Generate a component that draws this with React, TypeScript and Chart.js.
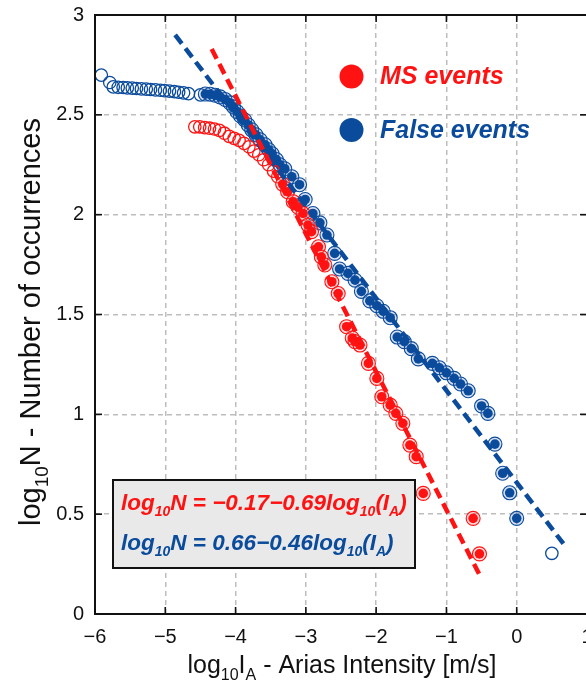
import React, { useEffect, useRef } from 'react';
import { Chart, registerables } from 'chart.js';

Chart.register(...registerables);

const FONT = "'Liberation Sans', Arial, Helvetica, sans-serif";
const RED = '#ff1212';
const BLUE = '#0a4b9c';

// Axis ticks
const xTickValues = [-6, -5, -4, -3, -2, -1, 0, 1];
const yTickValues = [0, 0.5, 1, 1.5, 2, 2.5, 3];

// False events (blue) – open circles (not used in fit)
const blueOpenX = [-5.91, -5.79, -5.74, -5.67, -5.60, -5.54, -5.47, -5.41, -5.34, -5.27, -5.21, -5.14, -5.07, -5.01, -4.94, -4.87, -4.81, -4.74, -4.67, -4.50, 0.50];
const blueOpenY = [2.699, 2.662, 2.640, 2.638, 2.637, 2.635, 2.634, 2.632, 2.630, 2.629, 2.627, 2.625, 2.623, 2.621, 2.619, 2.616, 2.613, 2.610, 2.606, 2.600, 0.304];

// False events (blue) – filled points (used in fit)
const blueFitX = [-4.43, -4.36, -4.29, -4.22, -4.15, -4.08, -4.03, -3.98, -3.93, -3.87, -3.82, -3.77, -3.71, -3.65, -3.58, -3.53, -3.48, -3.42, -3.37, -3.30, -3.20, -3.09, -3.01, -2.90, -2.80, -2.70, -2.59, -2.52, -2.40, -2.30, -2.21, -2.09, -1.99, -1.90, -1.80, -1.70, -1.60, -1.50, -1.40, -1.20, -1.10, -1.00, -0.89, -0.80, -0.69, -0.50, -0.41, -0.31, -0.20, -0.10, 0.00];
const blueFitY = [2.604, 2.603, 2.598, 2.590, 2.577, 2.560, 2.540, 2.516, 2.494, 2.474, 2.449, 2.425, 2.400, 2.375, 2.350, 2.325, 2.305, 2.276, 2.250, 2.230, 2.190, 2.150, 2.076, 2.006, 1.959, 1.898, 1.806, 1.728, 1.706, 1.672, 1.616, 1.568, 1.544, 1.516, 1.484, 1.387, 1.364, 1.329, 1.278, 1.255, 1.233, 1.208, 1.180, 1.152, 1.118, 1.042, 1.005, 0.851, 0.705, 0.607, 0.479];

// MS events (red) – open circles
const redOpenX = [-4.58, -4.51, -4.44, -4.37, -4.30, -4.23, -4.16, -4.09, -4.02, -3.95, -3.88, -3.81, -3.74, -3.67, -3.60, -3.53, -3.46, -3.40];
const redOpenY = [2.440, 2.440, 2.436, 2.433, 2.429, 2.422, 2.408, 2.392, 2.382, 2.372, 2.357, 2.340, 2.318, 2.300, 2.275, 2.250, 2.218, 2.190];

// MS events (red) – filled points
const redFitX = [-3.33, -3.26, -3.18, -3.11, -3.04, -2.97, -2.92, -2.82, -2.78, -2.73, -2.63, -2.54, -2.42, -2.34, -2.30, -2.23, -2.11, -1.99, -1.92, -1.80, -1.72, -1.62, -1.52, -1.43, -1.33, -0.62, -0.53];
const redFitY = [2.153, 2.115, 2.065, 2.038, 2.006, 1.948, 1.915, 1.839, 1.788, 1.748, 1.664, 1.605, 1.439, 1.382, 1.364, 1.347, 1.255, 1.180, 1.088, 1.046, 1.005, 0.955, 0.846, 0.788, 0.604, 0.479, 0.301];

// Fit lines (end points)
const redLineX = [-4.34, -0.52];
const redLineY = [2.83, 0.19];
const blueLineX = [-4.86, 0.69];
const blueLineY = [2.90, 0.34];

const legendLabels = ['MS events', 'False events'];

const pts = (xs: number[], ys: number[]) => xs.map((x, i) => ({ x, y: ys[i] }));

type Seg = { t: string; sub?: boolean };

function drawRich(ctx: CanvasRenderingContext2D, segs: Seg[], x: number, y: number, size: number, style: string, align: 'left' | 'center') {
  const subSize = Math.round(size * 0.64);
  const fontFor = (s: Seg) => `${style} ${s.sub ? subSize : size}px ${FONT}`;
  let total = 0;
  for (const s of segs) {
    ctx.font = fontFor(s);
    total += ctx.measureText(s.t).width;
  }
  let cx = align === 'center' ? x - total / 2 : x;
  ctx.textAlign = 'left';
  ctx.textBaseline = 'alphabetic';
  for (const s of segs) {
    ctx.font = fontFor(s);
    ctx.fillText(s.t, cx, s.sub ? y + size * 0.28 : y);
    cx += ctx.measureText(s.t).width;
  }
}

const decorPlugin = {
  id: 'decor',
  afterDraw(chart: any) {
    const { ctx, chartArea: a, scales } = chart;
    ctx.save();
    // frame
    ctx.strokeStyle = '#111';
    ctx.lineWidth = 2;
    ctx.setLineDash([]);
    ctx.strokeRect(a.left, a.top, a.right - a.left, a.bottom - a.top);
    // inward ticks
    ctx.lineWidth = 1.6;
    const seg = (x1: number, y1: number, x2: number, y2: number) => {
      ctx.beginPath();
      ctx.moveTo(x1, y1);
      ctx.lineTo(x2, y2);
      ctx.stroke();
    };
    for (const v of xTickValues) {
      const px = scales.x.getPixelForValue(v);
      seg(px, a.bottom, px, a.bottom - 7);
      seg(px, a.top, px, a.top + 7);
    }
    for (const v of yTickValues) {
      const py = scales.y.getPixelForValue(v);
      seg(a.left, py, a.left + 7, py);
      seg(a.right, py, a.right - 7, py);
    }

    // legend
    const legendColors = [RED, BLUE];
    const legendY = [76.5, 130];
    legendLabels.forEach((lab, i) => {
      ctx.fillStyle = legendColors[i];
      ctx.beginPath();
      ctx.arc(351.5, legendY[i], 12, 0, Math.PI * 2);
      ctx.fill();
      ctx.font = `italic bold 25px ${FONT}`;
      ctx.textAlign = 'left';
      ctx.textBaseline = 'middle';
      ctx.fillText(lab, 380, legendY[i] + 1);
    });

    // equation box
    ctx.fillStyle = '#e9e9e9';
    ctx.fillRect(113, 480, 302, 88);
    ctx.strokeStyle = '#111';
    ctx.lineWidth = 2;
    ctx.strokeRect(113, 480, 302, 88);
    ctx.fillStyle = RED;
    drawRich(ctx, [
      { t: 'log' }, { t: '10', sub: true }, { t: 'N = \u22120.17\u22120.69log' }, { t: '10', sub: true },
      { t: '(I' }, { t: 'A', sub: true }, { t: ')' },
    ], 121, 510, 22.5, 'italic bold', 'left');
    ctx.fillStyle = BLUE;
    drawRich(ctx, [
      { t: 'log' }, { t: '10', sub: true }, { t: 'N = 0.66\u22120.46log' }, { t: '10', sub: true },
      { t: '(I' }, { t: 'A', sub: true }, { t: ')' },
    ], 121, 550, 22.5, 'italic bold', 'left');

    // axis titles
    ctx.fillStyle = '#111';
    drawRich(ctx, [
      { t: 'log' }, { t: '10', sub: true }, { t: 'I' }, { t: 'A', sub: true }, { t: ' - Arias Intensity [m/s]' },
    ], 342, 673, 25, 'normal', 'center');
    ctx.save();
    ctx.translate(40, 322);
    ctx.rotate(-Math.PI / 2);
    drawRich(ctx, [
      { t: 'log' }, { t: '10', sub: true }, { t: 'N - Number of occurrences' },
    ], 0, 0, 29, 'normal', 'center');
    ctx.restore();

    ctx.restore();
  },
};

export default function App() {
  const ref = useRef<HTMLCanvasElement | null>(null);

  useEffect(() => {
    if (!ref.current) return;
    const chart = new Chart(ref.current, {
      type: 'scatter',
      data: {
        datasets: [
          {
            label: 'MS fit',
            data: pts(redLineX, redLineY),
            showLine: true,
            borderColor: RED,
            borderWidth: 4.5,
            borderDash: [11, 6],
            pointRadius: 0,
            fill: false,
          },
          {
            label: 'False fit',
            data: pts(blueLineX, blueLineY),
            showLine: true,
            borderColor: BLUE,
            borderWidth: 4.5,
            borderDash: [11, 6],
            pointRadius: 0,
            fill: false,
          },
          {
            label: 'MS dots',
            data: pts(redFitX, redFitY),
            pointRadius: 4.8,
            pointBackgroundColor: RED,
            pointBorderWidth: 0,
          },
          {
            label: 'MS rings',
            data: pts(redFitX, redFitY),
            pointRadius: 7,
            pointBackgroundColor: 'rgba(255,120,120,0.25)',
            pointBorderColor: RED,
            pointBorderWidth: 1.1,
          },
          {
            label: 'MS open',
            data: pts(redOpenX, redOpenY),
            pointRadius: 6.2,
            pointBackgroundColor: 'rgba(0,0,0,0)',
            pointBorderColor: RED,
            pointBorderWidth: 1.3,
          },
          {
            label: 'False dots',
            data: pts(blueFitX, blueFitY),
            pointRadius: 4.8,
            pointBackgroundColor: BLUE,
            pointBorderWidth: 0,
          },
          {
            label: 'False rings',
            data: pts(blueFitX, blueFitY),
            pointRadius: 7,
            pointBackgroundColor: 'rgba(90,130,200,0.25)',
            pointBorderColor: BLUE,
            pointBorderWidth: 1.1,
          },
          {
            label: 'False open',
            data: pts(blueOpenX, blueOpenY),
            pointRadius: 6.2,
            pointBackgroundColor: 'rgba(0,0,0,0)',
            pointBorderColor: BLUE,
            pointBorderWidth: 1.3,
          },
        ],
      },
      options: {
        animation: false,
        responsive: false,
        devicePixelRatio: 1,
        layout: { padding: { top: 15, right: 13, left: 0, bottom: 0 } },
        plugins: {
          legend: { display: false },
          tooltip: { enabled: false },
          title: { display: false },
        },
        scales: {
          x: {
            type: 'linear',
            min: -6,
            max: 1,
            afterFit: (s: any) => { s.height = 70; s.paddingLeft = 0; s.paddingRight = 0; },
            afterBuildTicks: (s: any) => { s.ticks = xTickValues.map((v) => ({ value: v })); },
            ticks: {
              padding: 11,
              color: '#111',
              font: { family: FONT, size: 20 },
              callback: (v: any) => (Number(v) < 0 ? '\u2212' + Math.abs(Number(v)) : String(v)),
            },
            grid: { color: '#bdbdbd', lineWidth: 1.5, drawTicks: false },
            border: { display: false, dash: [5, 4] },
          },
          y: {
            type: 'linear',
            min: 0,
            max: 3,
            afterFit: (s: any) => { s.width = 95; s.paddingTop = 0; s.paddingBottom = 0; },
            afterBuildTicks: (s: any) => { s.ticks = yTickValues.map((v) => ({ value: v })); },
            ticks: {
              padding: 11,
              color: '#111',
              font: { family: FONT, size: 20 },
              callback: (v: any) => String(v),
            },
            grid: { color: '#bdbdbd', lineWidth: 1.5, drawTicks: false },
            border: { display: false, dash: [5, 4] },
          },
        },
      },
      plugins: [decorPlugin],
    });
    return () => chart.destroy();
  }, []);

  return (
    <div style={{ position: 'fixed', left: 0, top: 0, width: 586, height: 684, overflow: 'hidden', background: '#fff' }}>
      <canvas ref={ref} width={600} height={684} style={{ width: 600, height: 684, display: 'block' }} />
    </div>
  );
}
